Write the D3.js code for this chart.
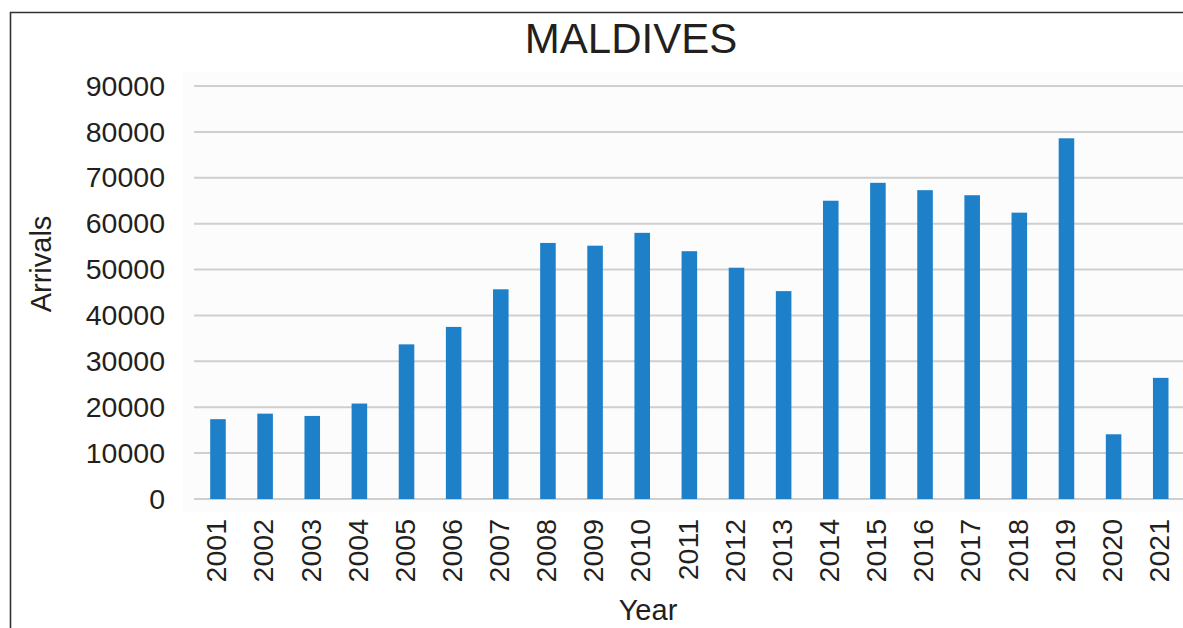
<!DOCTYPE html>
<html>
<head>
<meta charset="utf-8">
<script src="https://cdn.jsdelivr.net/npm/d3@7"></script>
<style>
  html, body { margin: 0; padding: 0; background: #fff; }
  svg { display: block; font-family: "Liberation Sans", Arial, sans-serif; }
</style>
</head>
<body>
<svg id="chart" width="1183" height="628"></svg>
<script>
const years = ["2001","2002","2003","2004","2005","2006","2007","2008","2009","2010","2011","2012","2013","2014","2015","2016","2017","2018","2019","2020","2021"];
const arrivals = [17400, 18600, 18100, 20800, 33700, 37500, 45700, 55800, 55200, 58000, 54000, 50400, 45300, 65000, 68900, 67300, 66200, 62400, 78600, 14100, 26400];
const yTicks = [0, 10000, 20000, 30000, 40000, 50000, 60000, 70000, 80000, 90000];
const title = "MALDIVES";
const xTitle = "Year";
const yTitle = "Arrivals";

const svg = d3.select("#chart");
const W = 1183, H = 628;

// outer frame
svg.append("path")
  .attr("d", `M10.5,${H} L10.5,12.5 L${W},12.5`)
  .attr("fill", "none").attr("stroke", "#333").attr("stroke-width", 1.6);

const x = d3.scaleBand().domain(years).range([194.4, 1184.3]).paddingInner(0.67).paddingOuter(0.335);
const y = d3.scaleLinear().domain([0, 90000]).range([499, 86]);

// plot background
svg.append("rect").attr("x", 183).attr("y", 72).attr("width", W - 183).attr("height", 440).attr("fill", "#fcfcfc");

// gridlines
svg.append("g").selectAll("line").data(yTicks).join("line")
  .attr("x1", 194).attr("x2", W)
  .attr("y1", d => y(d)).attr("y2", d => y(d))
  .attr("stroke", "#cfcfcf").attr("stroke-width", 2);

// y axis labels
const yAxis = d3.axisLeft(y).tickValues(yTicks).tickSize(0).tickPadding(0).tickFormat(d3.format("d"));
const gy = svg.append("g").attr("transform", "translate(165,0)").call(yAxis);
gy.select(".domain").remove();
gy.selectAll("text").attr("font-size", "28.5px").attr("fill", "#231f20").attr("font-family", "Liberation Sans, Arial, sans-serif");

// bars
svg.append("g").selectAll("rect").data(years).join("rect")
  .attr("x", d => x(d)).attr("width", x.bandwidth())
  .attr("y", (d, i) => y(arrivals[i]))
  .attr("height", (d, i) => y(0) - y(arrivals[i]))
  .attr("fill", "#1d80c8");

// x axis labels
const xAxis = d3.axisBottom(x).tickSize(0).tickPadding(0);
const gx = svg.append("g").attr("transform", "translate(-2,519)").call(xAxis);
gx.select(".domain").remove();
gx.selectAll("text")
  .attr("font-size", "28.5px").attr("fill", "#231f20")
  .attr("font-family", "Liberation Sans, Arial, sans-serif")
  .attr("transform", "rotate(-90)")
  .attr("text-anchor", "end")
  .attr("x", 0).attr("y", 0).attr("dy", "0.36em");

// title
svg.append("text").attr("x", 631).attr("y", 53).attr("text-anchor", "middle")
  .attr("font-size", "42px").attr("fill", "#231f20").text(title);

// axis titles
svg.append("text").attr("x", 648).attr("y", 620).attr("text-anchor", "middle")
  .attr("font-size", "29px").attr("fill", "#231f20").text(xTitle);
svg.append("text").attr("transform", "translate(51,264) rotate(-90)").attr("text-anchor", "middle")
  .attr("font-size", "29px").attr("fill", "#231f20").text(yTitle);
</script>
</body>
</html>
